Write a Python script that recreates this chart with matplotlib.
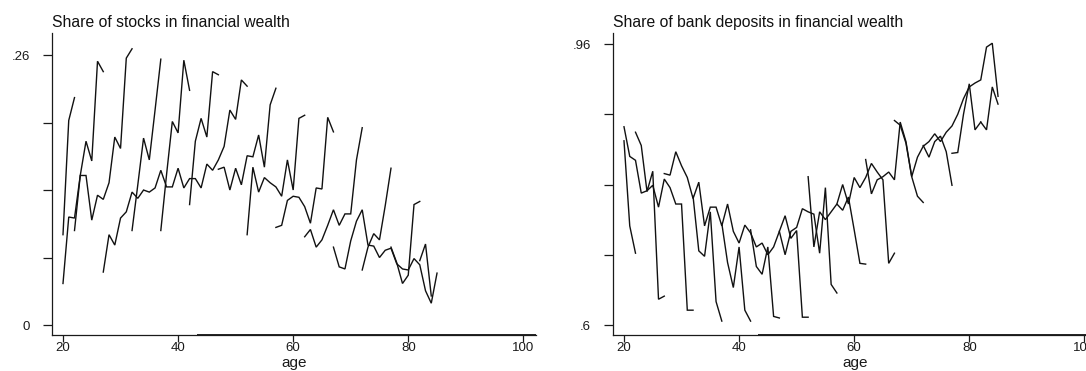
import matplotlib
matplotlib.use("Agg")
import matplotlib.pyplot as plt
import matplotlib.transforms as mtransforms
import numpy as np

plt.rcParams['font.family'] = ['Liberation Sans', 'DejaVu Sans']

# ---------------- data: share of stocks (left panel) ----------------
stock_starts = [20, 20, 22, 27, 32, 37, 42, 47, 52, 57, 62, 67, 72, 77, 82]
stock_s01 = [.087, .197, .219]
stock_s02 = [.040, .104, .103, .144, .144, .101, .125, .121, .137, .181, .170, .257, .266]
stock_s03 = [.091, .144, .177, .158, .254, .244]
stock_s04 = [.051, .087, .077, .103, .109, .128, .122, .130, .128, .132, .149, .133, .133,
             .151, .132, .141, .141, .132, .155, .149, .159, .172, .207, .198, .236, .230]
stock_s05 = [.091, .135, .180, .159, .207, .256]
stock_s06 = [.091, .145, .196, .185, .255, .226]
stock_s07 = [.116, .177, .199, .181, .244, .241]
stock_s08 = [.150, .152, .130, .151, .135, .163, .162, .183, .152, .212, .228]
stock_s09 = [.087, .152, .128, .142, .137, .133, .124, .159, .130, .199, .202]
stock_s10 = [.094, .096, .120, .124, .123, .114, .098, .132, .131, .200, .186]
stock_s11 = [.085, .092, .075, .082, .096, .111, .096, .107, .107, .159, .190]
stock_s12 = [.075, .056, .054, .081, .100, .111, .077, .076, .065, .072, .074, .059, .054,
             .053, .064, .058, .033, .021, .050]
stock_s13 = [.053, .075, .088, .082, .115, .151]
stock_s14 = [.075, .060, .040, .048, .116, .119]
stock_s15 = [.062, .078, .028]
stock_series = [stock_s01, stock_s02, stock_s03, stock_s04, stock_s05, stock_s06, stock_s07,
                stock_s08, stock_s09, stock_s10, stock_s11, stock_s12, stock_s13, stock_s14,
                stock_s15]

# ---------------- data: share of bank deposits (right panel) ----------------
dep_starts = [20, 20, 22, 27, 32, 37, 42, 47, 52, 57, 62, 67, 72, 77, 82]
dep_s01 = [.836, .727, .692]
dep_s02 = [.854, .816, .811, .769, .772, .779, .751, .787, .776, .755, .755, .619, .619]
dep_s03 = [.847, .830, .771, .797, .633, .637]
dep_s04 = [.794, .792, .822, .804, .789, .762, .783, .727, .751, .751, .727, .755, .720,
           .705, .728, .718, .700, .705, .690, .700, .720, .740, .711, .721, .610, .610]
dep_s05 = [.765, .695, .688, .745, .630, .605]
dep_s06 = [.730, .680, .648, .700, .619, .605]
dep_s07 = [.722, .675, .665, .700, .611, .609]
dep_s08 = [.720, .690, .720, .725, .749, .745, .742, .692, .776, .652, .641]
dep_s09 = [.790, .700, .745, .735, .745, .755, .747, .764, .722, .679, .678]
dep_s10 = [.755, .780, .755, .789, .776, .789, .807, .796, .786, .679, .692]
dep_s11 = [.812, .768, .786, .790, .796, .786, .860, .835, .790, .765, .757]
dep_s12 = [.862, .856, .833, .790, .815, .829, .835, .845, .835, .847, .855, .870, .890,
           .905, .910, .914, .956, .961, .893]
dep_s13 = [.830, .815, .835, .842, .822, .779]
dep_s14 = [.820, .821, .870, .909, .850, .860]
dep_s15 = [.860, .850, .905, .883]
dep_series = [dep_s01, dep_s02, dep_s03, dep_s04, dep_s05, dep_s06, dep_s07, dep_s08,
              dep_s09, dep_s10, dep_s11, dep_s12, dep_s13, dep_s14, dep_s15]

x_ticks = [20, 40, 60, 80, 100]
stock_yticks = [0, .065, .13, .195, .26]
stock_ylabels = ['0', '', '', '', '.26']
dep_yticks = [.6, .69, .78, .87, .96]
dep_ylabels = ['.6', '', '', '', '.96']

titles = ['Share of stocks in financial wealth', 'Share of bank deposits in financial wealth']

# ---------------- figure ----------------
W, H = 1086, 371
fig = plt.figure(figsize=(W / 100, H / 100), dpi=100)
INK = '#1a1a1a'


def px_rect(x0, y_top, w, h):
    return [x0 / W, 1 - (y_top + h) / H, w / W, h / H]


def style(ax, yticks, ylabels, ylim):
    for s in ['top', 'right']:
        ax.spines[s].set_visible(False)
    for s in ['left', 'bottom']:
        ax.spines[s].set_linewidth(0.9)
        ax.spines[s].set_color(INK)
    ax.set_xlim(18.09, 102.2)
    ax.set_ylim(*ylim)
    ax.set_xticks(x_ticks)
    ax.set_xticklabels([str(t) for t in x_ticks])
    ax.set_yticks(yticks)
    ax.set_yticklabels(ylabels)
    ax.tick_params(axis='y', direction='out', length=6.5, width=0.9, pad=9.5,
                   labelsize=9.5, colors=INK)
    ax.tick_params(axis='x', direction='out', length=5, width=0.9, pad=0.3,
                   labelsize=9.5, colors=INK)
    ax.set_xlabel('age', fontsize=11, labelpad=1.5, color=INK)
    # darker stretch of the x axis line, as rendered in the reference
    trans = mtransforms.blended_transform_factory(ax.transData, ax.transAxes)
    ax.plot([43.3, 102.2], [0, 0], transform=trans, color=INK, lw=1.35,
            clip_on=False, solid_capstyle='butt')


panels = [
    (52, stock_starts, stock_series, stock_yticks, stock_ylabels, (-0.0096, 0.2812), titles[0]),
    (613, dep_starts, dep_series, dep_yticks, dep_ylabels, (0.5872, 0.9741), titles[1]),
]

for x0, starts, series, yt, yl, ylim, title in panels:
    ax = fig.add_axes(px_rect(x0, 33, 484, 302))
    for st, vals in zip(starts, series):
        ages = np.arange(st, st + len(vals))
        ax.plot(ages, vals, color='#111111', lw=1.0, solid_joinstyle='miter')
    style(ax, yt, yl, ylim)
    fig.text(x0 / W, 1 - 27 / H, title, fontsize=11.3, ha='left', va='baseline', color='#111111')

fig.savefig('out.png', dpi=100)
